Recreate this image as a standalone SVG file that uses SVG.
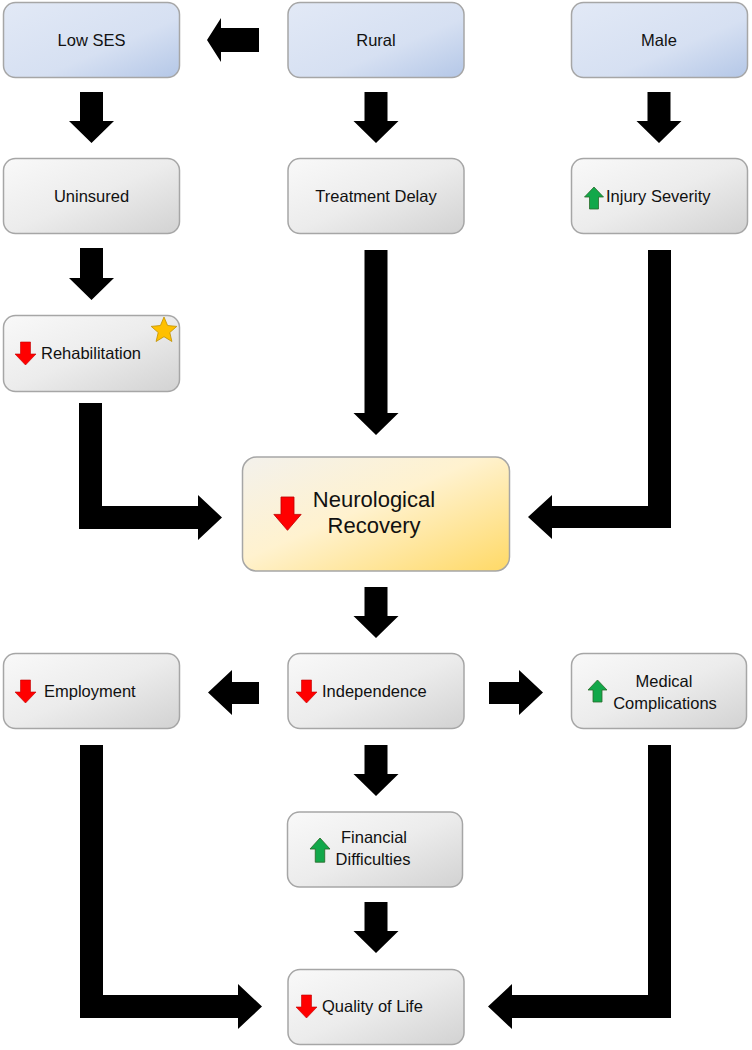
<svg xmlns="http://www.w3.org/2000/svg" width="752" height="1050" viewBox="0 0 752 1050">
<defs>
<linearGradient id="gGray" x1="0" y1="0" x2="1" y2="1">
<stop offset="0" stop-color="#f9f9f9"/><stop offset="0.5" stop-color="#ececec"/><stop offset="1" stop-color="#d2d2d2"/>
</linearGradient>
<linearGradient id="gBlue" x1="0" y1="0" x2="1" y2="1">
<stop offset="0" stop-color="#e2e9f6"/><stop offset="0.6" stop-color="#d6e0f2"/><stop offset="1" stop-color="#b4c7e7"/>
</linearGradient>
<linearGradient id="gYellow" x1="0" y1="0" x2="1" y2="1">
<stop offset="0" stop-color="#f3f1ec"/><stop offset="0.45" stop-color="#fff2cf"/><stop offset="1" stop-color="#ffd966"/>
</linearGradient>
<path id="redDown" d="M-5,0 H5 V12 H10.5 L0,23 L-10.5,12 H-5 Z"/>
<path id="greenUp" d="M0,0 L9.5,10 H4.5 V22 H-4.5 V10 H-9.5 Z"/>
</defs>
<style>
.box{stroke:#a6a6a6;stroke-width:1.5}
.gray{fill:url(#gGray)}
.blue{fill:url(#gBlue)}
.yellow{fill:url(#gYellow)}
text{font-family:"Liberation Sans",Arial,sans-serif;font-size:16.5px;fill:#111}
.c{text-anchor:middle}
.big{font-size:22px}
.arr{fill:#000}
.red{fill:#ff0000;stroke:#c00000;stroke-width:0.6}
.green{fill:#12a84a;stroke:#2b6b2b;stroke-width:0.8}
</style>

<g id="connectors">
<path class="arr" d="M259,28 V52 H221 V62 L207,40 L221,18 V28 Z"/>
<path class="arr" d="M80,92 H103 V121 H114 L91.5,143 L69,121 H80 Z"/>
<path class="arr" d="M364.5,92 H387.5 V121 H398.5 L376,143 L353.5,121 H364.5 Z"/>
<path class="arr" d="M647.5,92 H670.5 V121 H681.5 L659,143 L636.5,121 H647.5 Z"/>
<path class="arr" d="M80,248 H103 V278 H114 L91.5,300 L69,278 H80 Z"/>
<path class="arr" d="M364.5,250 H387.5 V413 H398.5 L376,435 L353.5,413 H364.5 Z"/>
<path class="arr" d="M364.5,587 H387.5 V616 H398.5 L376,638 L353.5,616 H364.5 Z"/>
<path class="arr" d="M364.5,745 H387.5 V774 H398.5 L376,796 L353.5,774 H364.5 Z"/>
<path class="arr" d="M364.5,902 H387.5 V931 H398.5 L376,953 L353.5,931 H364.5 Z"/>
<path class="arr" d="M259,682 V704 H232 V715 L208,692.5 L232,670 V682 Z"/>
<path class="arr" d="M489,682 V704 H519 V715 L543,692.5 L519,670 V682 Z"/>
<path class="arr" d="M79,403 H102 V506 H198 V495 L222,517.5 L198,540 V529 H79 Z"/>
<path class="arr" d="M671,250 H648 V506 H552 V495 L528,517 L552,539 V528 H671 Z"/>
<path class="arr" d="M80,745 H103 V995 H238 V984 L262,1006.5 L238,1029 V1018 H80 Z"/>
<path class="arr" d="M671,745 H648 V995 H512 V984 L488,1006.5 L512,1029 V1018 H671 Z"/>
</g>

<g id="low-ses">
<rect class="box blue" x="3.5" y="2.5" width="176" height="75" rx="12"/>
<text class="c" x="91.5" y="45.5">Low SES</text>
</g>
<g id="rural">
<rect class="box blue" x="288" y="2.5" width="176" height="75" rx="12"/>
<text class="c" x="376" y="45.5">Rural</text>
</g>
<g id="male">
<rect class="box blue" x="571.5" y="2.5" width="176" height="75" rx="12"/>
<text class="c" x="659" y="45.5">Male</text>
</g>
<g id="uninsured">
<rect class="box gray" x="3.5" y="158.5" width="176" height="75" rx="12"/>
<text class="c" x="91.5" y="201.5">Uninsured</text>
</g>
<g id="treatment-delay">
<rect class="box gray" x="288" y="158.5" width="176" height="75" rx="12"/>
<text class="c" x="376" y="201.5">Treatment Delay</text>
</g>
<g id="injury-severity">
<rect class="box gray" x="571.5" y="158.5" width="176" height="75" rx="12"/>
<use href="#greenUp" class="green" transform="translate(594,187)"/>
<text x="606" y="201.5">Injury Severity</text>
</g>
<g id="rehabilitation">
<rect class="box gray" x="3.5" y="315.5" width="176" height="76" rx="12"/>
<use href="#redDown" class="red" transform="translate(25.5,342)"/>
<text x="41" y="359">Rehabilitation</text>
<polygon points="164,317 167.6,325.5 176.8,326.4 169.8,332.5 171.9,341.5 164,336.7 156.1,341.5 158.2,332.5 151.2,326.4 160.4,325.5" fill="#ffc000" stroke="#bf9000" stroke-width="0.8"/>
</g>
<g id="neurological-recovery">
<rect class="box yellow" x="242.5" y="457" width="267" height="114" rx="14"/>
<use href="#redDown" class="red" transform="translate(287.5,497) scale(1.3,1.45)"/>
<text class="c big" x="374" y="507">Neurological</text>
<text class="c big" x="374" y="533">Recovery</text>
</g>
<g id="employment">
<rect class="box gray" x="3.5" y="653.5" width="176" height="75" rx="12"/>
<use href="#redDown" class="red" transform="translate(25.5,680)"/>
<text x="44" y="697">Employment</text>
</g>
<g id="independence">
<rect class="box gray" x="288" y="653.5" width="176" height="75" rx="12"/>
<use href="#redDown" class="red" transform="translate(306.5,680)"/>
<text x="322" y="697">Independence</text>
</g>
<g id="medical-complications">
<rect class="box gray" x="571.5" y="653.5" width="175" height="75" rx="12"/>
<use href="#greenUp" class="green" transform="translate(597.5,680)"/>
<text class="c" x="664" y="687">Medical</text>
<text class="c" x="665" y="709">Complications</text>
</g>
<g id="financial-difficulties">
<rect class="box gray" x="287.5" y="812" width="175" height="75" rx="12"/>
<use href="#greenUp" class="green" transform="translate(320,838) scale(1.05,1.1)"/>
<text class="c" x="374" y="843">Financial</text>
<text class="c" x="373" y="865">Difficulties</text>
</g>
<g id="quality-of-life">
<rect class="box gray" x="288" y="969.5" width="176" height="75" rx="12"/>
<use href="#redDown" class="red" transform="translate(306.5,995)"/>
<text x="322" y="1012">Quality of Life</text>
</g>
</svg>
